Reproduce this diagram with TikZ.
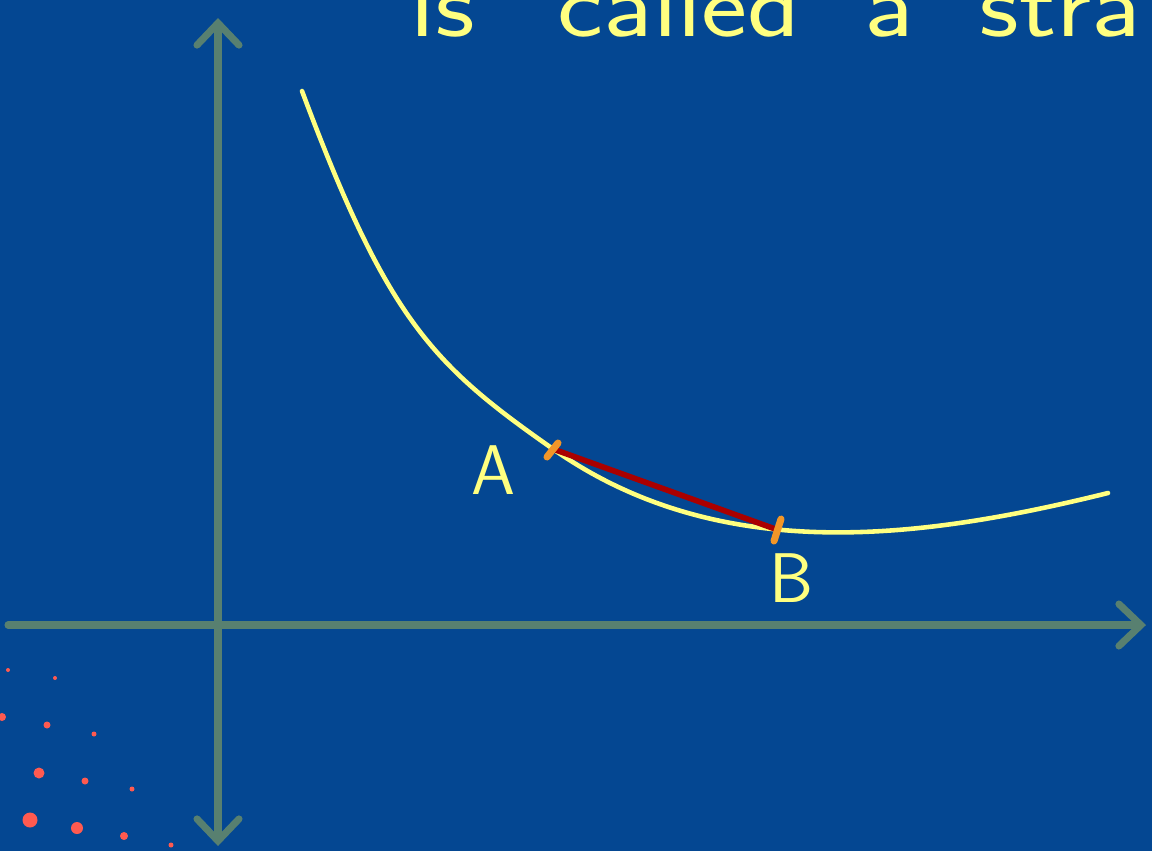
\documentclass[tikz,border=0pt]{standalone}
\usepackage{xcolor}
\usetikzlibrary{arrows.meta, positioning}

\definecolor{board}{RGB}{4,71,146}
\definecolor{axisgreen}{RGB}{88,128,112}
\definecolor{chalk}{RGB}{255,255,128}
\definecolor{chordred}{RGB}{170,0,0}
\definecolor{tickorange}{RGB}{243,150,40}
\definecolor{dotred}{RGB}{255,90,80}

\begin{document}
\begin{tikzpicture}[
  x=0.01cm, y=-0.01cm,
  axis/.style={draw=axisgreen, line width=2pt, line cap=round,
    -{Straight Barb[length=0.22cm, width=0.42cm, line cap=round]}},
  curve/.style={draw=chalk, line width=1.3pt, line cap=round},
  chord/.style={draw=chordred, line width=1.6pt},
  mark tick/.style={draw=tickorange, line width=2pt, line cap=round},
  label/.style={text=chalk, font=\sffamily\fontsize{20}{20}\selectfont, inner sep=0pt},
  dot/.style={fill=dotred}
]
\fill[board] (0,0) rectangle (1152,851);
\clip (0,0) rectangle (1152,851);

% axes
\coordinate (O) at (218,625);
\coordinate (ytop) at (218,18);
\coordinate (ybot) at (218,846);
\coordinate (xleft) at (8,625);
\coordinate (xright) at (1146,625);
\draw[axis] (O) -- (ytop);
\draw[axis] (O) -- (ybot);
\draw[axis] (xleft) -- (xright);

% the curve and the chord
\coordinate (start) at (302,91);
\coordinate (A) at (553,449);
\coordinate (B) at (778,530);
\coordinate (end) at (1108,493);
\draw[curve] (start) .. controls (388,321) and (433,365) .. (A)
  .. controls (717,564) and (914,541) .. (end);
\draw[chord] (A) -- (B);
\draw[mark tick] (547,457) -- (558,443);
\draw[mark tick] (774,541) -- (781,519);

\node[label] (labA) at (493,470) {A};
\node[label] (labB) at (791,578) {B};

% heading, cut off at the edge
\node[text=chalk, font=\sffamily\fontsize{26}{26}\selectfont, anchor=base west, inner sep=0pt, xscale=1.2]
  (head) at (410,36) {is\hspace{0.69cm}called\hspace{0.53cm}a\hspace{0.55cm}stra};

% dots
\foreach \px/\py/\r in {8/670/2, 55/678/2, 2/717/4, 47/725/3.5, 94/734/2.5,
  39/773/5.5, 85/781/3.5, 132/789/2.5, 30/820/7.5, 77/828/6, 124/836/4, 171/845/2.5}
  \fill[dot] (\px,\py) circle[radius=\r];
\end{tikzpicture}
\end{document}
